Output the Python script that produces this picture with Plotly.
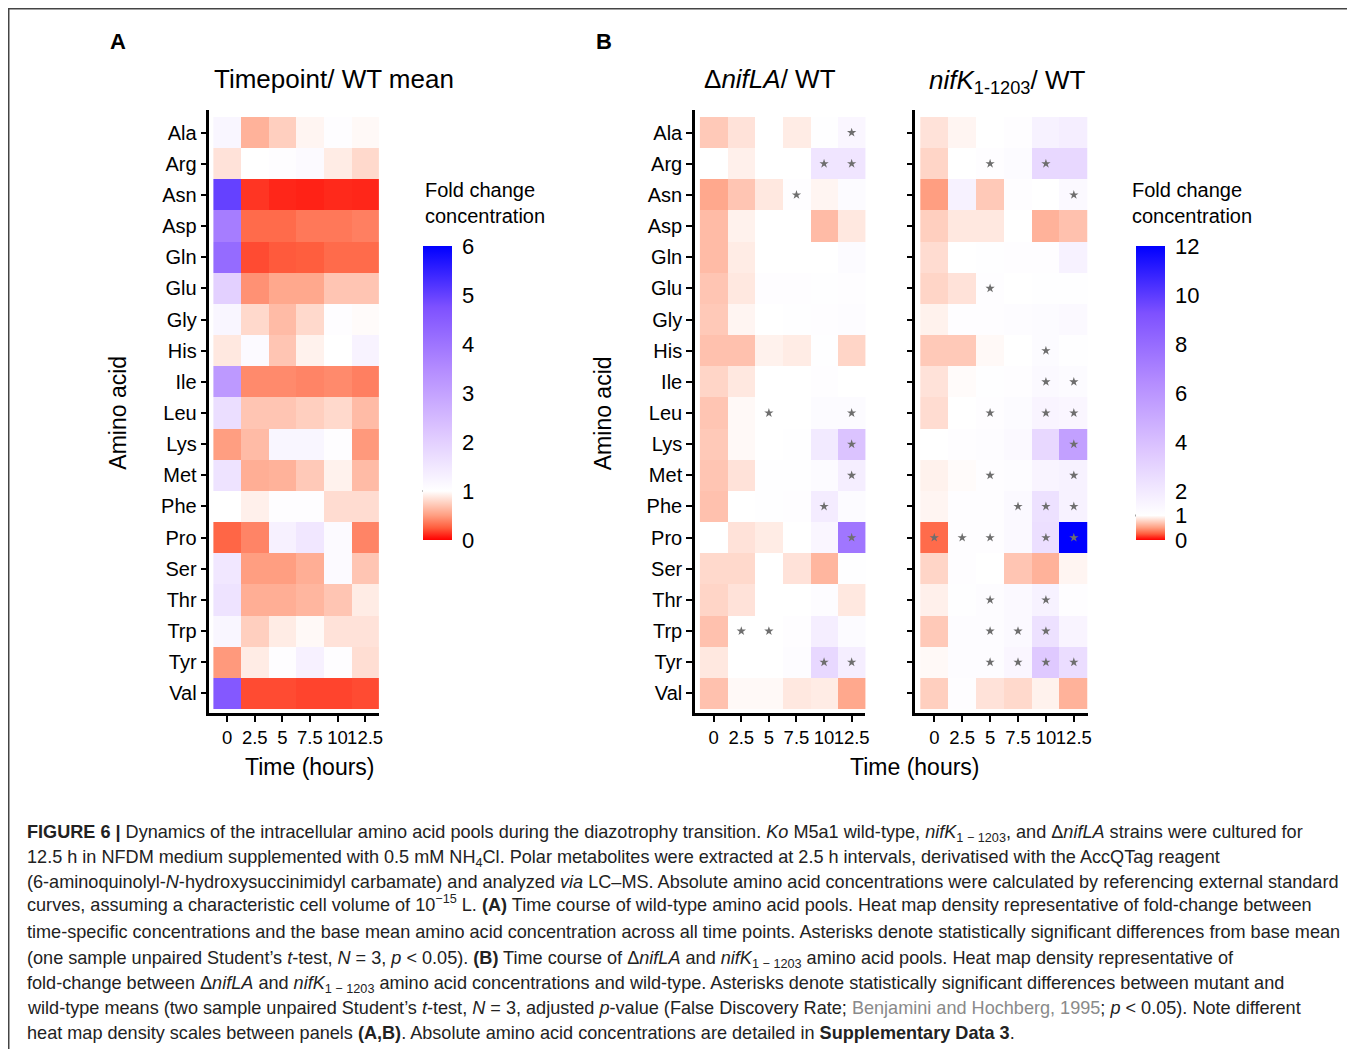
import plotly.graph_objects as go

W, H = 1355, 1049
OX, OY = 8, 8            # page body margin offset
FW, FH = W - OX, H - OY  # figure size

# ---------------- data ----------------
amino_acids = ["Ala", "Arg", "Asn", "Asp", "Gln", "Glu", "Gly", "His", "Ile", "Leu",
               "Lys", "Met", "Phe", "Pro", "Ser", "Thr", "Trp", "Tyr", "Val"]
times = ["0", "2.5", "5", "7.5", "10", "12.5"]

# Panel A: timepoint / WT mean
wt_fold = [
    [1.2, 0.60, 0.75, 0.95, 1.05, 0.97],   # Ala
    [0.85, 1.0, 1.05, 1.1, 0.9, 0.8],      # Arg
    [5.0, 0.14, 0.10, 0.09, 0.11, 0.10],   # Asn
    [3.8, 0.30, 0.30, 0.35, 0.35, 0.38],   # Asp
    [4.2, 0.20, 0.24, 0.25, 0.30, 0.30],   # Gln
    [2.0, 0.45, 0.55, 0.55, 0.70, 0.70],   # Glu
    [1.2, 0.80, 0.65, 0.80, 1.05, 0.98],   # Gly
    [0.88, 1.1, 0.70, 0.93, 1.0, 1.25],    # His
    [3.2, 0.42, 0.42, 0.40, 0.42, 0.38],   # Ile
    [1.7, 0.70, 0.70, 0.75, 0.80, 0.65],   # Leu
    [0.50, 0.65, 1.2, 1.2, 1.05, 0.48],    # Lys
    [1.6, 0.58, 0.60, 0.72, 0.93, 0.65],   # Met
    [1.0, 0.92, 1.05, 1.05, 0.82, 0.82],   # Phe
    [0.28, 0.40, 1.3, 1.5, 1.1, 0.40],     # Pro
    [1.5, 0.50, 0.50, 0.58, 1.1, 0.70],    # Ser
    [1.6, 0.58, 0.58, 0.62, 0.70, 0.90],   # Thr
    [1.2, 0.75, 0.90, 0.97, 0.85, 0.85],   # Trp
    [0.48, 0.90, 1.05, 1.3, 1.05, 0.83],   # Tyr
    [4.6, 0.20, 0.20, 0.18, 0.18, 0.20],   # Val
]

# Panel B: ΔnifLA / WT
niflA_fold = [
    [0.72, 0.85, 1.0, 0.90, 1.05, 1.4],
    [1.0, 0.92, 1.0, 1.0, 2.2, 2.2],
    [0.55, 0.70, 0.88, 1.1, 0.95, 1.2],
    [0.65, 0.93, 1.0, 1.0, 0.65, 0.88],
    [0.65, 0.90, 1.0, 1.0, 1.0, 1.2],
    [0.70, 0.88, 1.1, 1.1, 1.05, 1.1],
    [0.72, 0.95, 1.0, 1.05, 1.1, 1.15],
    [0.68, 0.68, 0.93, 0.90, 1.05, 0.78],
    [0.78, 0.88, 1.0, 1.0, 1.1, 1.0],
    [0.70, 0.97, 1.0, 1.0, 1.2, 1.2],
    [0.72, 0.97, 1.0, 1.05, 2.0, 3.8],
    [0.70, 0.85, 1.05, 1.05, 1.2, 1.8],
    [0.68, 1.0, 1.05, 1.1, 1.9, 1.2],
    [1.0, 0.85, 0.90, 1.0, 1.4, 7.5],
    [0.80, 0.80, 1.0, 0.85, 0.62, 1.05],
    [0.78, 0.85, 1.0, 1.0, 1.15, 0.88],
    [0.68, 1.0, 1.0, 1.1, 1.8, 1.2],
    [0.88, 1.0, 1.0, 1.15, 2.8, 1.8],
    [0.68, 0.97, 0.97, 0.88, 0.90, 0.55],
]
niflA_sig = [
    [0, 0, 0, 0, 0, 1], [0, 0, 0, 0, 1, 1], [0, 0, 0, 1, 0, 0], [0, 0, 0, 0, 0, 0],
    [0, 0, 0, 0, 0, 0], [0, 0, 0, 0, 0, 0], [0, 0, 0, 0, 0, 0], [0, 0, 0, 0, 0, 0],
    [0, 0, 0, 0, 0, 0], [0, 0, 1, 0, 0, 1], [0, 0, 0, 0, 0, 1], [0, 0, 0, 0, 0, 1],
    [0, 0, 0, 0, 1, 0], [0, 0, 0, 0, 0, 1], [0, 0, 0, 0, 0, 0], [0, 0, 0, 0, 0, 0],
    [0, 1, 1, 0, 0, 0], [0, 0, 0, 0, 1, 1], [0, 0, 0, 0, 0, 0],
]

# Panel B: nifK1-1203 / WT
nifK_fold = [
    [0.85, 0.95, 1.0, 1.1, 1.6, 1.8],
    [0.78, 1.0, 1.1, 1.2, 2.8, 2.8],
    [0.50, 1.6, 0.72, 1.1, 1.0, 1.3],
    [0.75, 0.88, 0.88, 1.0, 0.60, 0.68],
    [0.82, 1.0, 1.05, 1.1, 1.1, 1.6],
    [0.78, 0.85, 1.1, 1.0, 1.05, 1.05],
    [0.93, 1.1, 1.1, 1.15, 1.2, 1.3],
    [0.72, 0.72, 0.97, 1.0, 1.2, 1.05],
    [0.85, 0.98, 1.05, 1.1, 1.3, 1.2],
    [0.82, 1.0, 1.1, 1.2, 1.5, 1.4],
    [1.0, 1.1, 1.15, 1.3, 2.8, 5.5],
    [0.93, 0.98, 1.1, 1.15, 1.5, 1.6],
    [0.95, 1.1, 1.1, 1.3, 2.4, 1.6],
    [0.30, 1.1, 1.1, 1.3, 2.5, 12.0],
    [0.78, 1.1, 1.0, 0.70, 0.60, 0.95],
    [0.92, 1.05, 1.15, 1.3, 1.6, 1.1],
    [0.72, 1.15, 1.15, 1.3, 2.4, 1.5],
    [0.97, 1.15, 1.15, 1.4, 3.5, 2.6],
    [0.75, 1.1, 0.85, 0.80, 0.93, 0.60],
]
nifK_sig = [
    [0, 0, 0, 0, 0, 0], [0, 0, 1, 0, 1, 0], [0, 0, 0, 0, 0, 1], [0, 0, 0, 0, 0, 0],
    [0, 0, 0, 0, 0, 0], [0, 0, 1, 0, 0, 0], [0, 0, 0, 0, 0, 0], [0, 0, 0, 0, 1, 0],
    [0, 0, 0, 0, 1, 1], [0, 0, 1, 0, 1, 1], [0, 0, 0, 0, 0, 1], [0, 0, 1, 0, 0, 1],
    [0, 0, 0, 1, 1, 1], [1, 1, 1, 0, 1, 1], [0, 0, 0, 0, 0, 0], [0, 0, 1, 0, 1, 0],
    [0, 0, 1, 1, 1, 0], [0, 0, 1, 1, 1, 1], [0, 0, 0, 0, 0, 0],
]

scale_A_ticks = [0, 1, 2, 3, 4, 5, 6]
scale_B_ticks = [0, 1, 2, 4, 6, 8, 10, 12]

# ---------------- helpers ----------------
FONT = "Liberation Sans, Arial, Helvetica, sans-serif"


def px(x):
    return (x - OX) / FW


def py(y):
    return 1 - (y - OY) / FH


def make_scale(zmax):
    m = 1.0 / zmax
    red = ["rgb(255,0,0)", "rgb(255,94,62)", "rgb(255,158,129)", "rgb(255,207,191)"]
    blue = ["rgb(220,196,255)", "rgb(179,139,255)", "rgb(126,81,255)", "rgb(0,0,255)"]
    cs = [[0.0, red[0]], [m * 0.25, red[1]], [m * 0.5, red[2]], [m * 0.75, red[3]],
          [m, "rgb(255,255,255)"]]
    for k, c in enumerate(blue):
        cs.append([m + (1 - m) * (k + 1) / 4, c])
    return cs


def sig_points(sig):
    xs, ys = [], []
    for i, row in enumerate(sig):
        for j, s in enumerate(row):
            if s:
                xs.append(times[j])
                ys.append(amino_acids[i])
    return xs, ys


fig = go.Figure()

CB_LEN = 294
CB_THICK = 29
CB_BOTTOM = 540  # px
cbA_x = 424
cbB_x = 1139


def cbar(xpix, ticks):
    return dict(
        x=px(xpix), xanchor="left", xpad=0, ypad=0,
        y=py(CB_BOTTOM), yanchor="bottom",
        lenmode="pixels", len=CB_LEN, thickness=CB_THICK,
        outlinewidth=0, tickvals=ticks, ticktext=[str(t) for t in ticks],
        ticks="outside", ticklen=6, tickcolor="rgba(0,0,0,0)", tickwidth=1,
        tickfont=dict(size=22, color="black", family=FONT),
    )


fig.add_trace(go.Heatmap(
    z=wt_fold, x=times, y=amino_acids, zmin=0, zmax=6,
    colorscale=make_scale(6), colorbar=cbar(cbA_x, scale_A_ticks),
    xaxis="x", yaxis="y", hoverinfo="skip"))

fig.add_trace(go.Heatmap(
    z=niflA_fold, x=times, y=amino_acids, zmin=0, zmax=12,
    colorscale=make_scale(12), showscale=False,
    xaxis="x2", yaxis="y2", hoverinfo="skip"))

fig.add_trace(go.Heatmap(
    z=nifK_fold, x=times, y=amino_acids, zmin=0, zmax=12,
    colorscale=make_scale(12), colorbar=cbar(cbB_x, scale_B_ticks),
    xaxis="x3", yaxis="y3", hoverinfo="skip"))

for sig, xa, ya in [(niflA_sig, "x2", "y2"), (nifK_sig, "x3", "y3")]:
    xs, ys = sig_points(sig)
    fig.add_trace(go.Scatter(
        x=xs, y=ys, mode="markers", xaxis=xa, yaxis=ya, hoverinfo="skip",
        marker=dict(symbol="star", size=7, color="#6e6e6e", line=dict(width=0)),
        showlegend=False))

n = len(amino_acids)
yrange = [n - 1 + 0.628, -0.725]


def xax(d0, d1, lo, anchor):
    return dict(domain=[px(d0), px(d1)], range=[lo, 5.5], type="category",
                categoryorder="array", categoryarray=times,
                showline=True, linecolor="black", linewidth=2.5,
                ticks="outside", ticklen=6, tickwidth=1.5, tickcolor="black",
                tickangle=0, tickfont=dict(size=18.5, color="black", family=FONT),
                showgrid=False, zeroline=False, anchor=anchor, fixedrange=True)


def yax(anchor, labels=True):
    return dict(domain=[py(713), py(110)], range=yrange, type="category",
                categoryorder="array", categoryarray=amino_acids,
                showline=True, linecolor="black", linewidth=2.5,
                ticks="outside", ticklen=6, tickwidth=1.5, tickcolor="black",
                showticklabels=labels,
                tickfont=dict(size=20, color="black", family=FONT),
                showgrid=False, zeroline=False, anchor=anchor, fixedrange=True)


annotations = []


def txt(x, y, s, size, xanchor="center", yanchor="middle", **kw):
    d = dict(x=px(x), y=py(y), xref="paper", yref="paper", text=s, showarrow=False,
             xanchor=xanchor, yanchor=yanchor,
             font=dict(size=size, color=kw.pop("color", "black"), family=FONT))
    d.update(kw)
    annotations.append(d)


# panel letters & titles
txt(118, 41, "<b>A</b>", 22)
txt(606, 41, "<b>B</b>", 22)
txt(335, 79, "Timepoint/ WT mean", 26)
txt(772, 79, "Δ<i>nifLA</i>/ WT", 26)
txt(1010, 81, "<i>nifK</i><sub>1-1203</sub>/ WT", 26)
# axis titles
txt(118, 413, "Amino acid", 23, textangle=-90)
txt(605, 413, "Amino acid", 23, textangle=-90)
txt(311, 767, "Time (hours)", 23)
txt(918, 767, "Time (hours)", 23)
# colorbar titles
txt(424, 203, "Fold change<br>concentration", 20, xanchor="left", align="left")
txt(1133, 203, "Fold change<br>concentration", 20, xanchor="left", align="left")

caption = [
    "<b>FIGURE 6 |</b> Dynamics of the intracellular amino acid pools during the diazotrophy transition. <i>Ko</i> M5a1 wild-type, <i>nifK</i><sub>1 − 1203</sub>, and Δ<i>nifLA</i> strains were cultured for",
    "12.5 h in NFDM medium supplemented with 0.5 mM NH<sub>4</sub>Cl. Polar metabolites were extracted at 2.5 h intervals, derivatised with the AccQTag reagent",
    "(6-aminoquinolyl-<i>N</i>-hydroxysuccinimidyl carbamate) and analyzed <i>via</i> LC–MS. Absolute amino acid concentrations were calculated by referencing external standard",
    "curves, assuming a characteristic cell volume of 10<sup>−15</sup> L. <b>(A)</b> Time course of wild-type amino acid pools. Heat map density representative of fold-change between",
    "time-specific concentrations and the base mean amino acid concentration across all time points. Asterisks denote statistically significant differences from base mean",
    "(one sample unpaired Student’s <i>t</i>-test, <i>N</i> = 3, <i>p</i> &lt; 0.05). <b>(B)</b> Time course of Δ<i>nifLA</i> and <i>nifK</i><sub>1 − 1203</sub> amino acid pools. Heat map density representative of",
    "fold-change between Δ<i>nifLA</i> and <i>nifK</i><sub>1 − 1203</sub> amino acid concentrations and wild-type. Asterisks denote statistically significant differences between mutant and",
    "wild-type means (two sample unpaired Student’s <i>t</i>-test, <i>N</i> = 3, adjusted <i>p</i>-value (False Discovery Rate; <span style='color:#8a8a8a'>Benjamini and Hochberg, 1995</span>; <i>p</i> &lt; 0.05). Note different",
    "heat map density scales between panels <b>(A,B)</b>. Absolute amino acid concentrations are detailed in <b>Supplementary Data 3</b>.",
]
for k, line in enumerate(caption):
    shift = 11 + (5 if "<sup>" in line else 0)
    txt(25, 831 + k * 25.1, line, 18.1, xanchor="left", yanchor="top",
        align="left", color="#222", yshift=shift)

shapes = []
# colorbar reference lines at fold change = 1
for xpix, zmax in [(cbA_x, 6), (cbB_x, 12)]:
    yline = CB_BOTTOM - CB_LEN * (1.0 / zmax)
    shapes.append(dict(type="line", xref="paper", yref="paper",
                       x0=px(xpix), x1=px(xpix + CB_THICK), y0=py(yline), y1=py(yline),
                       line=dict(color="black", width=2)))
# figure frame
shapes.append(dict(type="line", xref="paper", yref="paper", x0=px(8), x1=px(W + 5),
                   y0=py(8.75), y1=py(8.75), line=dict(color="#444", width=1.5)))
shapes.append(dict(type="line", xref="paper", yref="paper", x0=px(8.75), x1=px(8.75),
                   y0=py(8), y1=py(H + 5), line=dict(color="#444", width=1.5)))

fig.update_layout(
    width=FW, height=FH, margin=dict(l=0, r=0, t=0, b=0),
    paper_bgcolor="white", plot_bgcolor="white",
    font=dict(family=FONT, color="black"),
    showlegend=False,
    xaxis=xax(210, 380, -0.645, "y"), yaxis=yax("x"),
    xaxis2=xax(697, 868, -0.68, "y2"), yaxis2=yax("x2"),
    xaxis3=xax(918, 1091, -0.68, "y3"), yaxis3=yax("x3", labels=False),
    annotations=annotations, shapes=shapes,
)

fig.write_html("out.html")
